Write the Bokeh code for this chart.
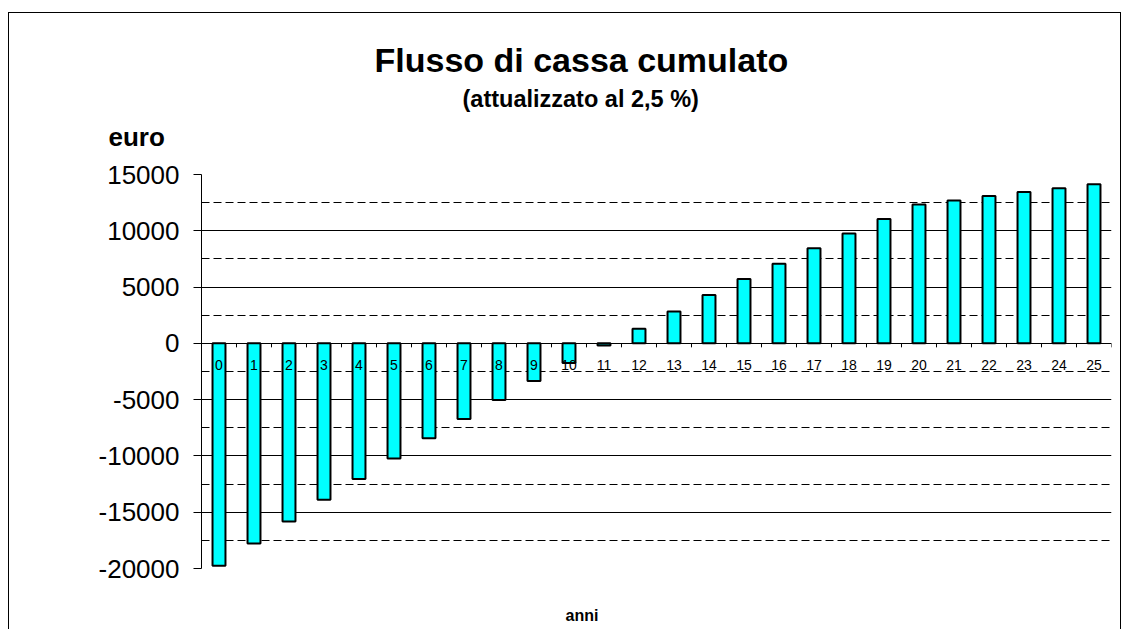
from bokeh.plotting import figure
from bokeh.models import FixedTicker, ColumnDataSource, Title
from bokeh.core.properties import value
from bokeh.embed import file_html
from bokeh.resources import INLINE

# ---- data ----
years = list(range(26))
year_labels = [str(y) for y in years]
cumulative_cash_flow = [-19750, -17780, -15820, -13890, -12050, -10220, -8440, -6720,
                        -5030, -3340, -1740, -200, 1300, 2820, 4300, 5720, 7080, 8450,
                        9750, 11050, 12330, 12690, 13100, 13450, 13780, 14130]
y_ticks = [-20000, -15000, -10000, -5000, 0, 5000, 10000, 15000]
y_tick_labels = ["-20000", "-15000", "-10000", "-5000", "0", "5000", "10000", "15000"]
grid_major = [-15000, -10000, -5000, 0, 5000, 10000]
grid_minor = [-17500, -12500, -7500, -2500, 2500, 7500, 12500]
title_text = "Flusso di cassa cumulato"
subtitle_text = "(attualizzato al 2,5 %)"
y_title = "euro"
x_title = "anni"

FONT = "Liberation Sans"
W, H = 1113, 617
ML, MR, MT, MB = 192, 11, 161, 62

p = figure(width=W, height=H, output_backend="svg", toolbar_location=None,
           x_range=(-0.5, 25.5), y_range=(y_ticks[0], y_ticks[-1]),
           x_axis_location=None, title=None,
           min_border_left=ML, min_border_right=MR, min_border_top=MT, min_border_bottom=MB)
p.styles = {"margin-top": "12px", "margin-left": "8px", "border-top": "1px solid black",
            "border-left": "1px solid black", "border-right": "1px solid black"}
p.outline_line_color = None
p.background_fill_color = "white"
p.border_fill_color = "white"

# grid
p.xgrid.visible = False
p.ygrid.ticker = FixedTicker(ticks=grid_major, minor_ticks=grid_minor)
p.ygrid.grid_line_color = "black"
p.ygrid.grid_line_width = 1
p.ygrid.minor_grid_line_color = "black"
p.ygrid.minor_grid_line_dash = "8 4"
p.ygrid.minor_grid_line_width = 1

# y axis
ya = p.yaxis[0]
ya.ticker = FixedTicker(ticks=y_ticks)
ya.major_label_overrides = dict(zip(y_ticks, y_tick_labels))
ya.major_tick_out = 8
ya.major_tick_in = 0
ya.minor_tick_line_color = None
ya.axis_line_color = "black"
ya.major_tick_line_color = "black"
ya.major_label_text_font = FONT
ya.major_label_text_font_size = "26px"
ya.major_label_text_color = "black"
ya.major_label_standoff = 14

src = ColumnDataSource(dict(x=years, y=cumulative_cash_flow, lab=year_labels))

p.vbar(x="x", top="y", bottom=0, width=0.37, source=src,
       fill_color="#00FFFF", line_color="black", line_width=2)

# category tick marks on the zero line (at category boundaries)
frame_h = H - MT - MB
px = (y_ticks[-1] - y_ticks[0]) / frame_h
bounds = [y - 0.5 for y in years] + [years[-1] + 0.5]
p.segment(x0=bounds, y0=[0] * len(bounds), x1=bounds, y1=[-4 * px] * len(bounds),
          line_color="black", line_width=1)

# category labels just below the zero line
p.text(x="x", y=0, text="lab", source=src, text_align="center", text_baseline="middle",
       y_offset=22, text_font=value(FONT), text_font_size="14px", text_color="black")

# titles (stacked above the frame: nearest first)
p.add_layout(Title(text=y_title, align="left", offset=-93, standoff=45, text_font=FONT,
                   text_font_size="26px", text_font_style="bold", text_color="black"), "above")
p.add_layout(Title(text=subtitle_text, align="left", offset=261, standoff=-29, text_font=FONT,
                   text_font_size="23.5px", text_font_style="bold", text_color="black"), "above")
p.add_layout(Title(text=title_text, align="left", offset=173, standoff=37, text_font=FONT,
                   text_font_size="34px", text_font_style="bold", text_color="black"), "above")
# below the frame: a blank spacer, then the x title
p.add_layout(Title(text=" ", align="left", standoff=23, text_font=FONT,
                   text_font_size="10px"), "below")
p.add_layout(Title(text=x_title, align="left", offset=364, standoff=0, text_font=FONT,
                   text_font_size="16px", text_font_style="bold", text_color="black"), "below")

open("out.html", "w").write(file_html(p, INLINE))
